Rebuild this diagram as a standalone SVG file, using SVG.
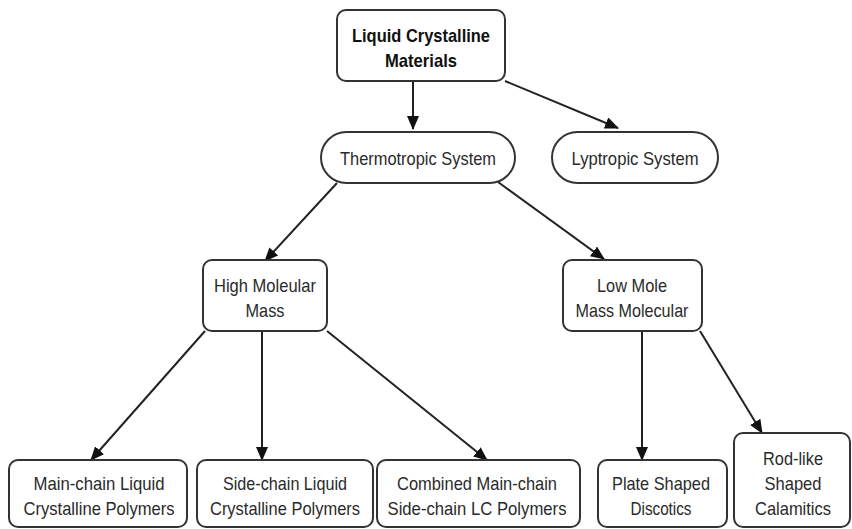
<svg xmlns="http://www.w3.org/2000/svg" width="852" height="529" viewBox="0 0 852 529">
<defs>
<marker id="ah" markerUnits="userSpaceOnUse" markerWidth="14" markerHeight="12" viewBox="0 0 14 12" refX="13" refY="6" orient="auto">
<path d="M0,0 L14,6 L0,12 Z" fill="#111"/>
</marker>
<style>
.box{fill:#fff;stroke:#333;stroke-width:2}
.t{font-family:"Liberation Sans",Arial,sans-serif;font-size:19px;fill:#2a2a2a;text-anchor:middle}
.b{font-weight:bold;fill:#111}
.c{stroke:#222;stroke-width:2;fill:none;marker-end:url(#ah)}
</style>
</defs>
<rect width="852" height="529" fill="#fff"/>
<g id="connectors">
<line class="c" x1="413" y1="81" x2="413" y2="129"/>
<line class="c" x1="505" y1="81" x2="618" y2="128"/>
<line class="c" x1="337" y1="183" x2="265" y2="261"/>
<line class="c" x1="498" y1="182" x2="604" y2="259"/>
<line class="c" x1="205" y1="331" x2="91" y2="460"/>
<line class="c" x1="262" y1="331" x2="262" y2="460"/>
<line class="c" x1="327" y1="331" x2="487" y2="460"/>
<line class="c" x1="642" y1="331" x2="642" y2="460"/>
<line class="c" x1="700" y1="331" x2="762" y2="433"/>
</g>
<g id="root">
<rect class="box" x="337" y="10" width="168" height="71" rx="9"/>
<text class="t b" x="421" y="42" textLength="138" lengthAdjust="spacingAndGlyphs">Liquid Crystalline</text>
<text class="t b" x="421" y="67" textLength="72" lengthAdjust="spacingAndGlyphs">Materials</text>
</g>
<g id="thermotropic">
<rect class="box" x="321" y="132" width="194" height="51" rx="25.5"/>
<text class="t" x="418" y="165" textLength="156" lengthAdjust="spacingAndGlyphs">Thermotropic System</text>
</g>
<g id="lyptropic">
<rect class="box" x="552" y="132" width="166" height="51" rx="25.5"/>
<text class="t" x="635" y="165" textLength="127" lengthAdjust="spacingAndGlyphs">Lyptropic System</text>
</g>
<g id="high">
<rect class="box" x="203" y="260" width="124" height="71" rx="9"/>
<text class="t" x="265" y="292" textLength="102" lengthAdjust="spacingAndGlyphs">High Moleular</text>
<text class="t" x="265" y="317" textLength="39" lengthAdjust="spacingAndGlyphs">Mass</text>
</g>
<g id="low">
<rect class="box" x="563" y="260" width="139" height="71" rx="9"/>
<text class="t" x="632" y="292" textLength="70" lengthAdjust="spacingAndGlyphs">Low Mole</text>
<text class="t" x="632" y="317" textLength="113" lengthAdjust="spacingAndGlyphs">Mass Molecular</text>
</g>
<g id="mainchain">
<rect class="box" x="9" y="460" width="178" height="67" rx="9"/>
<text class="t" x="99" y="490" textLength="131" lengthAdjust="spacingAndGlyphs">Main-chain Liquid</text>
<text class="t" x="99" y="515" textLength="151" lengthAdjust="spacingAndGlyphs">Crystalline Polymers</text>
</g>
<g id="sidechain">
<rect class="box" x="197" y="460" width="176" height="67" rx="9"/>
<text class="t" x="285" y="490" textLength="124" lengthAdjust="spacingAndGlyphs">Side-chain Liquid</text>
<text class="t" x="285" y="515" textLength="150" lengthAdjust="spacingAndGlyphs">Crystalline Polymers</text>
</g>
<g id="combined">
<rect class="box" x="377" y="460" width="203" height="67" rx="9"/>
<text class="t" x="477" y="490" textLength="160" lengthAdjust="spacingAndGlyphs">Combined Main-chain</text>
<text class="t" x="477" y="515" textLength="179" lengthAdjust="spacingAndGlyphs">Side-chain LC Polymers</text>
</g>
<g id="plate">
<rect class="box" x="598" y="460" width="129" height="67" rx="9"/>
<text class="t" x="661" y="490" textLength="98" lengthAdjust="spacingAndGlyphs">Plate Shaped</text>
<text class="t" x="661" y="515" textLength="61" lengthAdjust="spacingAndGlyphs">Discotics</text>
</g>
<g id="rod">
<rect class="box" x="734" y="433" width="116" height="94" rx="9"/>
<text class="t" x="793" y="465" textLength="60" lengthAdjust="spacingAndGlyphs">Rod-like</text>
<text class="t" x="793" y="490" textLength="57" lengthAdjust="spacingAndGlyphs">Shaped</text>
<text class="t" x="793" y="515" textLength="76" lengthAdjust="spacingAndGlyphs">Calamitics</text>
</g>
</svg>
